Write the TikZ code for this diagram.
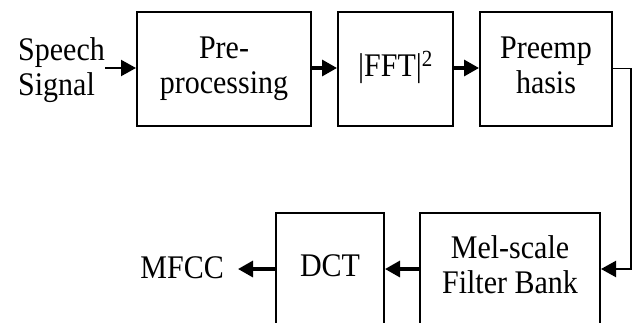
\documentclass[tikz,border=0pt]{standalone}
\usepackage{fontspec}
\setmainfont{Liberation Serif}
\usetikzlibrary{arrows.meta}
% slightly tall serif labels, one line per \\ 
\newcommand{\lbl}[1]{\scalebox{1}[1.1]{\begin{tabular}{@{}c@{}}#1\end{tabular}}}
\newcommand{\lbll}[1]{\scalebox{1}[1.1]{\begin{tabular}{@{}l@{}}#1\end{tabular}}}
\tikzset{
  blockbox/.style={draw, line width=2pt, rectangle, inner sep=0pt, align=center},
  txt/.style={font=\fontsize{30}{32}\selectfont, inner sep=0pt},
  flow/.style={line width=3.2pt, -{Triangle[length=15pt 0,width=16pt 0]}},
  thinflow/.style={line width=2.2pt, -{Triangle[length=15pt 0,width=16pt 0]}},
}
\begin{document}
\begin{tikzpicture}[x=1pt,y=-1pt]
\useasboundingbox (0,0) rectangle (637,322);
\clip (0,0) rectangle (637,322);
% upper row
\node[blockbox, txt, minimum width=174pt, minimum height=114pt] (pre) at (224,69) {\lbl{Pre-\\processing}};
\node[blockbox, txt, minimum width=115pt, minimum height=114pt] (fft) at (395.5,69) {\lbl{|FFT|\textsuperscript{2}}};
\node[blockbox, txt, minimum width=132pt, minimum height=114pt] (pe) at (546,69) {\lbl{Preemp\\hasis}};
% lower row (runs past the lower edge)
\node[blockbox, txt, minimum width=180pt, minimum height=112pt] (mel) at (510,269) {\lbl{Mel-scale\\Filter Bank}};
\node[blockbox, txt, minimum width=108pt, minimum height=112pt] (dct) at (330,269) {\lbl{DCT}};
% input and output labels
\node[txt, anchor=west] (sig) at (18,71) {\lbll{Speech\\Signal}};
\node[txt, anchor=east] (mfcc) at (224,271) {\lbl{MFCC}};
\coordinate (sigout) at (105,68);
\coordinate (mfccin) at (238,269);
\coordinate (turn) at (631,68);
% connectors
\draw[thinflow] (sigout) -- (pre.west |- sigout);
\draw[flow] (pre.east |- sigout) -- (fft.west |- sigout);
\draw[flow] (fft.east |- sigout) -- (pe.west |- sigout);
\draw[line width=1pt] (pe.east |- turn) -- (turn);
\draw[thinflow] (turn) |- (mel.east);
\draw[flow] (mel.west) -- (dct.east);
\draw[flow] (dct.west) -- (mfccin);
\end{tikzpicture}
\end{document}
